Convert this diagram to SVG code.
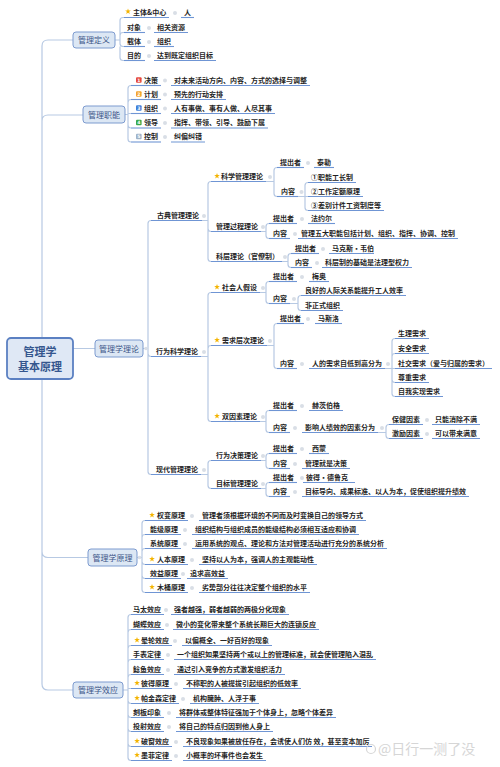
<svg xmlns="http://www.w3.org/2000/svg" xmlns:xlink="http://www.w3.org/1999/xlink" width="500" height="767" viewBox="0 0 500 767">
<style>
.c{fill:none;stroke:#b7c9e3;stroke-width:1.2}
.u{fill:none;stroke:#6f95d4;stroke-width:1.1}
.t{font-family:"Noto Sans CJK SC","Noto Sans",sans-serif;font-size:7px;fill:#1f1f1f;font-weight:bold}
.d{fill:#d9dee6}
.bx{fill:#dce7f4;stroke:#7d9bcf;stroke-width:1}
.bt{font-family:"Noto Sans CJK SC","Noto Sans",sans-serif;font-size:8px;fill:#3d5688;text-anchor:middle}
.rt{font-family:"Noto Sans CJK SC","Noto Sans",sans-serif;font-size:11px;font-weight:bold;fill:#34568e;text-anchor:middle}
.ic{font-family:"DejaVu Sans",sans-serif;font-size:4.6px;font-weight:bold;fill:#fff;text-anchor:middle}
.wm{font-family:"Noto Sans CJK SC","Noto Sans",sans-serif;font-size:14px;fill:#d6d6d6}
</style>
<defs>
<polygon id="st" fill="#f4b400" points="0,-3 0.705,-0.971 2.853,-0.927 1.141,0.371 1.763,2.427 0,1.2 -1.763,2.427 -1.141,0.371 -2.853,-0.927 -0.705,-0.971"/>
</defs>
<rect width="500" height="767" fill="#ffffff"/>

<g id="connectors">
<path class="c" d="M42,338 V46 Q42,40 48,40 H73 M42,338 V121 Q42,115 48,115 H83 M73,348.5 H95 M42,379 V551.5 Q42,557.5 48,557.5 H88 M42,379 V684 Q42,690 48,690 H73"/>
<path class="c" d="M115,40 H120 V20.5 Q120,17.5 123,17.5 H124 M120,40 V35.5 Q120,32.5 123,32.5 H124 M120,40 V43.5 Q120,46.5 123,46.5 H124 M120,46.5 V57.5 Q120,60.5 123,60.5 H124"/>
<path class="c" d="M125,114.5 H128 V88.5 Q128,85.5 131,85.5 M128,114.5 V102.5 Q128,99.5 131,99.5 M128,114.5 V113.5 H131 M128,114.5 V125 Q128,128 131,128 M128,114.5 V139 Q128,142 131,142"/>
<path class="c" d="M143,348.5 H148 V223.5 Q148,220.5 151,220.5 M148,348.5 V353.5 Q148,356.5 151,356.5 M148,348.5 V471.5 Q148,474.5 151,474.5"/>
<path class="c" d="M202,220.5 H208 V184.5 Q208,181.5 211,181.5 M208,220.5 V228.5 Q208,231.5 211,231.5 M208,220.5 V258.5 Q208,261.5 211,261.5"/>
<path class="c" d="M266,181.5 H274 V170.5 Q274,167.5 277,167.5 M274,181.5 V193.5 Q274,196.5 277,196.5"/>
<path class="c" d="M298,196.5 H305 V185.5 Q305,182.5 308,182.5 M305,196.5 H308 M305,196.5 V207.5 Q305,210.5 308,210.5"/>
<path class="c" d="M261,231.5 H266 V226.5 Q266,223.5 269,223.5 M266,231.5 V235.5 Q266,238.5 269,238.5"/>
<path class="c" d="M282,261.5 H288 V256.5 Q288,253.5 291,253.5 M288,261.5 V264.5 Q288,267.5 291,267.5"/>
<path class="c" d="M201,356.5 H208 V295.5 Q208,292.5 211,292.5 M208,356.5 V348.5 Q208,345.5 211,345.5 M208,356.5 V418.5 Q208,421.5 211,421.5"/>
<path class="c" d="M260,292.5 H266 V284.5 Q266,281.5 269,281.5 M266,292.5 V300.5 Q266,303.5 269,303.5"/>
<path class="c" d="M290,303.5 H298 V298.5 Q298,295.5 301,295.5 M298,303.5 V307.5 Q298,310.5 301,310.5"/>
<path class="c" d="M267,345.5 H274 V326.5 Q274,323.5 277,323.5 M274,345.5 V365.5 Q274,368.5 277,368.5"/>
<path class="c" d="M385,368.5 H392 V341.5 Q392,338.5 395,338.5 M392,368.5 V356.5 Q392,353.5 395,353.5 M392,368.5 H395 M392,368.5 V379.5 Q392,382.5 395,382.5 M392,368.5 V393.5 Q392,396.5 395,396.5"/>
<path class="c" d="M260,421.5 H266 V413.5 Q266,410.5 269,410.5 M266,421.5 V429.5 Q266,432.5 269,432.5"/>
<path class="c" d="M378,432.5 H386 V427.5 Q386,424.5 389,424.5 M386,432.5 V435.5 Q386,438.5 389,438.5"/>
<path class="c" d="M201,474.5 H208 V463.5 Q208,460.5 211,460.5 M208,474.5 V485.5 Q208,488.5 211,488.5"/>
<path class="c" d="M261,460.5 H266 V456.5 Q266,453.5 269,453.5 M266,460.5 V465.5 Q266,468.5 269,468.5"/>
<path class="c" d="M261,488.5 H266 V485.5 Q266,482.5 269,482.5 M266,488.5 V493.5 Q266,496.5 269,496.5"/>
<path class="c" d="M137,557.5 H142 V523.5 Q142,520.5 145,520.5 M142,557.5 V537.5 Q142,534.5 145,534.5 M142,557.5 V551.5 Q142,548.5 145,548.5 M142,557.5 V561.5 Q142,564.5 145,564.5 M142,557.5 V575.5 Q142,578.5 145,578.5 M142,557.5 V589.5 Q142,592.5 145,592.5"/>
<path class="c" d="M123,690 H128 V617.5 Q128,614.5 131,614.5 M128,690 V632.5 Q128,629.5 131,629.5 M128,690 V648.5 Q128,645.5 131,645.5 M128,690 V662.5 Q128,659.5 131,659.5 M128,690 V677.5 Q128,674.5 131,674.5 M128,690 V688.5 H131 M128,690 V700.5 Q128,703.5 131,703.5 M128,690 V714.5 Q128,717.5 131,717.5 M128,690 V728.5 Q128,731.5 131,731.5 M128,690 V743.5 Q128,746.5 131,746.5 M128,690 V757.5 Q128,760.5 131,760.5"/>
<g class="d">
<circle cx="175" cy="13" r="2"/><circle cx="149" cy="28" r="2"/><circle cx="149" cy="42" r="2"/><circle cx="149" cy="56" r="2"/>
<circle cx="165" cy="80.5" r="2"/><circle cx="165" cy="94.5" r="2"/><circle cx="165" cy="108.5" r="2"/><circle cx="165" cy="123" r="2"/><circle cx="165" cy="137" r="2"/>
<circle cx="146" cy="348.5" r="1.8"/>
<circle cx="204" cy="216" r="2"/><circle cx="204" cy="352" r="2"/><circle cx="204" cy="470" r="2"/>
<circle cx="270" cy="177" r="2"/><circle cx="263" cy="227" r="2"/><circle cx="285" cy="257" r="2"/>
<circle cx="308" cy="163" r="2"/><circle cx="301.5" cy="192" r="2"/>
<circle cx="302" cy="219" r="2"/><circle cx="295" cy="234" r="2"/>
<circle cx="323" cy="249" r="2"/><circle cx="317" cy="263" r="2"/>
<circle cx="263" cy="288" r="2"/><circle cx="302" cy="277" r="2"/><circle cx="294" cy="299" r="2"/>
<circle cx="270" cy="341" r="2"/><circle cx="308" cy="319" r="2"/><circle cx="302" cy="364" r="2"/><circle cx="388" cy="364" r="2"/>
<circle cx="263" cy="417" r="2"/><circle cx="302" cy="406" r="2"/><circle cx="295" cy="428" r="2"/><circle cx="382" cy="428" r="2"/><circle cx="427" cy="420" r="2"/><circle cx="427" cy="434" r="2"/>
<circle cx="263" cy="456" r="2"/><circle cx="263" cy="484" r="2"/><circle cx="302" cy="449" r="2"/><circle cx="295" cy="464" r="2"/><circle cx="302" cy="478" r="2"/><circle cx="295" cy="492" r="2"/>
<circle cx="139.5" cy="557.5" r="1.8"/>
<circle cx="192" cy="516" r="2"/><circle cx="185" cy="530" r="2"/><circle cx="185" cy="544" r="2"/><circle cx="192" cy="560" r="2"/><circle cx="183" cy="574" r="2"/><circle cx="192" cy="588" r="2"/>
<circle cx="166" cy="610" r="2"/><circle cx="167" cy="625" r="2"/><circle cx="175" cy="641" r="2"/><circle cx="168" cy="655" r="2"/><circle cx="168" cy="670" r="2"/><circle cx="176" cy="684" r="2"/><circle cx="183" cy="699" r="2"/><circle cx="169" cy="713" r="2"/><circle cx="169" cy="727" r="2"/><circle cx="176" cy="742" r="2"/><circle cx="176" cy="756" r="2"/>
</g>
</g>

<g id="root">
<rect x="7" y="338" width="66" height="41" rx="4" fill="#dfe8f5" stroke="#5b80c2" stroke-width="1.8"/>
<text class="rt" x="40" y="356">管理学</text>
<text class="rt" x="40" y="371">基本原理</text>
</g>

<g id="dingyi"><rect class="bx" x="73" y="32" width="42" height="16" rx="3"/><text class="bt" x="94" y="43">管理定义</text></g>
<g id="dy1"><use href="#st" x="128" y="11.5"/><text class="t" x="133" y="14.5">主体&amp;中心</text><path class="u" d="M124,17.5 H169"/></g>
<g id="dy1v"><text class="t" x="184" y="14.5">人</text><path class="u" d="M181,17.5 H194"/></g>
<g id="dy2"><text class="t" x="127" y="29.5">对象</text><path class="u" d="M124,32.5 H145"/></g>
<g id="dy2v"><text class="t" x="157" y="29.5">相关资源</text><path class="u" d="M154,32.5 H188"/></g>
<g id="dy3"><text class="t" x="127" y="43.5">载体</text><path class="u" d="M124,46.5 H145"/></g>
<g id="dy3v"><text class="t" x="157" y="43.5">组织</text><path class="u" d="M154,46.5 H174"/></g>
<g id="dy4"><text class="t" x="127" y="57.5">目的</text><path class="u" d="M124,60.5 H145"/></g>
<g id="dy4v"><text class="t" x="157" y="57.5">达到既定组织目标</text><path class="u" d="M154,60.5 H216"/></g>

<g id="zhineng"><rect class="bx" x="83" y="106" width="42" height="17" rx="3"/><text class="bt" x="104" y="117.5">管理职能</text></g>
<g id="zn1"><rect x="136" y="77.2" width="5.6" height="5.6" rx="1" fill="#e5483d"/><text class="ic" x="138.8" y="81.7">1</text><text class="t" x="144" y="82.5">决策</text><path class="u" d="M131,85.5 H161"/></g>
<g id="zn1v"><text class="t" x="174" y="82.5">对未来活动方向、内容、方式的选择与调整</text><path class="u" d="M171,85.5 H310"/></g>
<g id="zn2"><rect x="136" y="91.2" width="5.6" height="5.6" rx="1" fill="#f3a42b"/><text class="ic" x="138.8" y="95.7">2</text><text class="t" x="144" y="96.5">计划</text><path class="u" d="M131,99.5 H161"/></g>
<g id="zn2v"><text class="t" x="174" y="96.5">预先的行动安排</text><path class="u" d="M171,99.5 H226"/></g>
<g id="zn3"><rect x="136" y="105.2" width="5.6" height="5.6" rx="1" fill="#3f7fd9"/><text class="ic" x="138.8" y="109.7">3</text><text class="t" x="144" y="110.5">组织</text><path class="u" d="M131,113.5 H161"/></g>
<g id="zn3v"><text class="t" x="174" y="110.5">人有事做、事有人做、人尽其事</text><path class="u" d="M171,113.5 H275"/></g>
<g id="zn4"><rect x="136" y="119.7" width="5.6" height="5.6" rx="1" fill="#39a84a"/><text class="ic" x="138.8" y="124.2">4</text><text class="t" x="144" y="125">领导</text><path class="u" d="M131,128 H161"/></g>
<g id="zn4v"><text class="t" x="174" y="125">指挥、带领、引导、鼓励下属</text><path class="u" d="M171,128 H268"/></g>
<g id="zn5"><rect x="136" y="133.7" width="5.6" height="5.6" rx="1" fill="#9fb3c8"/><text class="ic" x="138.8" y="138.2">5</text><text class="t" x="144" y="139">控制</text><path class="u" d="M131,142 H161"/></g>
<g id="zn5v"><text class="t" x="174" y="139">纠偏纠错</text><path class="u" d="M171,142 H205"/></g>

<g id="lilun"><rect class="bx" x="95" y="340" width="48" height="17" rx="3"/><text class="bt" x="119" y="351.5">管理学理论</text></g>
<g id="gudian"><text class="t" x="157" y="217.5">古典管理理论</text><path class="u" d="M151,220.5 H202"/></g>
<g id="kexue"><use href="#st" x="217" y="176"/><text class="t" x="221" y="178.5">科学管理理论</text><path class="u" d="M211,181.5 H266"/></g>
<g id="kx-tcz"><text class="t" x="280" y="164.5">提出者</text><path class="u" d="M277,167.5 H304"/></g>
<g id="kx-tcz-v"><text class="t" x="317" y="164.5">泰勒</text><path class="u" d="M314,167.5 H334"/></g>
<g id="kx-nr"><text class="t" x="281" y="193.5">内容</text><path class="u" d="M277,196.5 H298"/></g>
<g id="kx-1"><text class="t" x="311" y="179.5">①职能工长制</text><path class="u" d="M308,182.5 H356"/></g>
<g id="kx-2"><text class="t" x="311" y="193.5">②工作定额原理</text><path class="u" d="M308,196.5 H363"/></g>
<g id="kx-3"><text class="t" x="311" y="207.5">③差别计件工资制度等</text><path class="u" d="M308,210.5 H384"/></g>
<g id="guocheng"><text class="t" x="216" y="228.5">管理过程理论</text><path class="u" d="M211,231.5 H261"/></g>
<g id="gc-tcz"><text class="t" x="273" y="220.5">提出者</text><path class="u" d="M269,223.5 H297"/></g>
<g id="gc-tcz-v"><text class="t" x="311" y="220.5">法约尔</text><path class="u" d="M308,223.5 H335"/></g>
<g id="gc-nr"><text class="t" x="273" y="235.5">内容</text><path class="u" d="M269,238.5 H290"/></g>
<g id="gc-nr-v"><text class="t" x="301" y="235.5">管理五大职能包括计划、组织、指挥、协调、控制</text><path class="u" d="M298,238.5 H458"/></g>
<g id="keceng"><text class="t" x="216" y="258.5">科层理论（官僚制）</text><path class="u" d="M211,261.5 H282"/></g>
<g id="kc-tcz"><text class="t" x="295" y="250.5">提出者</text><path class="u" d="M291,253.5 H319"/></g>
<g id="kc-tcz-v"><text class="t" x="332" y="250.5">马克斯·韦伯</text><path class="u" d="M329,253.5 H374"/></g>
<g id="kc-nr"><text class="t" x="295" y="264.5">内容</text><path class="u" d="M291,267.5 H312"/></g>
<g id="kc-nr-v"><text class="t" x="325" y="264.5">科层制的基础是法理型权力</text><path class="u" d="M322,267.5 H412"/></g>

<g id="xingwei"><text class="t" x="156" y="353.5">行为科学理论</text><path class="u" d="M151,356.5 H201"/></g>
<g id="shehuiren"><use href="#st" x="217" y="287"/><text class="t" x="222" y="289.5">社会人假设</text><path class="u" d="M211,292.5 H260"/></g>
<g id="shr-tcz"><text class="t" x="273" y="278.5">提出者</text><path class="u" d="M269,281.5 H297"/></g>
<g id="shr-tcz-v"><text class="t" x="312" y="278.5">梅奥</text><path class="u" d="M309,281.5 H329"/></g>
<g id="shr-nr"><text class="t" x="273" y="300.5">内容</text><path class="u" d="M269,303.5 H290"/></g>
<g id="shr-1"><text class="t" x="305" y="292.5">良好的人际关系能提升工人效率</text><path class="u" d="M301,295.5 H406"/></g>
<g id="shr-2"><text class="t" x="305" y="307.5">非正式组织</text><path class="u" d="M301,310.5 H343"/></g>
<g id="xuqiu"><use href="#st" x="217" y="340"/><text class="t" x="222" y="342.5">需求层次理论</text><path class="u" d="M211,345.5 H267"/></g>
<g id="xq-tcz"><text class="t" x="280" y="320.5">提出者</text><path class="u" d="M277,323.5 H304"/></g>
<g id="xq-tcz-v"><text class="t" x="318" y="320.5">马斯洛</text><path class="u" d="M315,323.5 H342"/></g>
<g id="xq-nr"><text class="t" x="280" y="365.5">内容</text><path class="u" d="M277,368.5 H297"/></g>
<g id="xq-nr-v"><text class="t" x="312" y="365.5">人的需求自低到高分为</text><path class="u" d="M309,368.5 H385"/></g>
<g id="xq-1"><text class="t" x="398" y="335.5">生理需求</text><path class="u" d="M395,338.5 H429"/></g>
<g id="xq-2"><text class="t" x="398" y="350.5">安全需求</text><path class="u" d="M395,353.5 H429"/></g>
<g id="xq-3"><text class="t" x="398" y="365.5">社交需求（爱与归属的需求）</text><path class="u" d="M395,368.5 H492"/></g>
<g id="xq-4"><text class="t" x="398" y="379.5">尊重需求</text><path class="u" d="M395,382.5 H429"/></g>
<g id="xq-5"><text class="t" x="398" y="393.5">自我实现需求</text><path class="u" d="M395,396.5 H443"/></g>
<g id="shuangyinsu"><use href="#st" x="217" y="416"/><text class="t" x="222" y="418.5">双因素理论</text><path class="u" d="M211,421.5 H260"/></g>
<g id="sy-tcz"><text class="t" x="273" y="407.5">提出者</text><path class="u" d="M269,410.5 H297"/></g>
<g id="sy-tcz-v"><text class="t" x="312" y="407.5">赫茨伯格</text><path class="u" d="M309,410.5 H343"/></g>
<g id="sy-nr"><text class="t" x="273" y="429.5">内容</text><path class="u" d="M269,432.5 H290"/></g>
<g id="sy-nr-v"><text class="t" x="305" y="429.5">影响人绩效的因素分为</text><path class="u" d="M302,432.5 H378"/></g>
<g id="sy-1"><text class="t" x="392" y="421.5">保健因素</text><path class="u" d="M389,424.5 H423"/></g>
<g id="sy-1v"><text class="t" x="435" y="421.5">只能消除不满</text><path class="u" d="M432,424.5 H480"/></g>
<g id="sy-2"><text class="t" x="392" y="435.5">激励因素</text><path class="u" d="M389,438.5 H423"/></g>
<g id="sy-2v"><text class="t" x="435" y="435.5">可以带来满意</text><path class="u" d="M432,438.5 H480"/></g>

<g id="xiandai"><text class="t" x="156" y="471.5">现代管理理论</text><path class="u" d="M151,474.5 H201"/></g>
<g id="juece"><text class="t" x="216" y="457.5">行为决策理论</text><path class="u" d="M211,460.5 H261"/></g>
<g id="jc-tcz"><text class="t" x="273" y="450.5">提出者</text><path class="u" d="M269,453.5 H297"/></g>
<g id="jc-tcz-v"><text class="t" x="312" y="450.5">西蒙</text><path class="u" d="M309,453.5 H329"/></g>
<g id="jc-nr"><text class="t" x="273" y="465.5">内容</text><path class="u" d="M269,468.5 H290"/></g>
<g id="jc-nr-v"><text class="t" x="305" y="465.5">管理就是决策</text><path class="u" d="M302,468.5 H350"/></g>
<g id="mubiao"><text class="t" x="216" y="485.5">目标管理理论</text><path class="u" d="M211,488.5 H261"/></g>
<g id="mb-tcz"><text class="t" x="273" y="479.5">提出者</text><path class="u" d="M269,482.5 H297"/></g>
<g id="mb-tcz-v"><text class="t" x="306" y="479.5">彼得·德鲁克</text><path class="u" d="M303,482.5 H355"/></g>
<g id="mb-nr"><text class="t" x="273" y="493.5">内容</text><path class="u" d="M269,496.5 H290"/></g>
<g id="mb-nr-v"><text class="t" x="305" y="493.5">目标导向、成果标准、以人为本，促使组织提升绩效</text><path class="u" d="M302,496.5 H469"/></g>

<g id="yuanli"><rect class="bx" x="88" y="549" width="49" height="17" rx="3"/><text class="bt" x="112.5" y="560.5">管理学原理</text></g>
<g id="yl1"><use href="#st" x="152" y="515"/><text class="t" x="157" y="517.5">权变原理</text><path class="u" d="M145,520.5 H188"/></g>
<g id="yl1v"><text class="t" x="202" y="517.5">管理者须根据环境的不同而及时变换自己的领导方式</text><path class="u" d="M199,520.5 H366"/></g>
<g id="yl2"><text class="t" x="150" y="531.5">能级原理</text><path class="u" d="M145,534.5 H181"/></g>
<g id="yl2v"><text class="t" x="195" y="531.5">组织结构与组织成员的能级结构必须相互适应和协调</text><path class="u" d="M192,534.5 H359"/></g>
<g id="yl3"><text class="t" x="150" y="545.5">系统原理</text><path class="u" d="M145,548.5 H181"/></g>
<g id="yl3v"><text class="t" x="195" y="545.5">运用系统的观点、理论和方法对管理活动进行充分的系统分析</text><path class="u" d="M192,548.5 H387"/></g>
<g id="yl4"><use href="#st" x="152" y="559"/><text class="t" x="157" y="561.5">人本原理</text><path class="u" d="M145,564.5 H188"/></g>
<g id="yl4v"><text class="t" x="202" y="561.5">坚持以人为本，强调人的主观能动性</text><path class="u" d="M199,564.5 H317"/></g>
<g id="yl5"><text class="t" x="150" y="575.5">效益原理</text><path class="u" d="M145,578.5 H181"/></g>
<g id="yl5v"><text class="t" x="190" y="575.5">追求高效益</text><path class="u" d="M187,578.5 H228"/></g>
<g id="yl6"><use href="#st" x="152" y="587"/><text class="t" x="157" y="589.5">木桶原理</text><path class="u" d="M145,592.5 H188"/></g>
<g id="yl6v"><text class="t" x="202" y="589.5">劣势部分往往决定整个组织的水平</text><path class="u" d="M199,592.5 H310"/></g>

<g id="xiaoying"><rect class="bx" x="73" y="682" width="50" height="16" rx="3"/><text class="bt" x="98" y="693">管理学效应</text></g>
<g id="xy1"><text class="t" x="133" y="611.5">马太效应</text><path class="u" d="M131,614.5 H164"/></g>
<g id="xy1v"><text class="t" x="174" y="611.5">强者越强，弱者越弱的两极分化现象</text><path class="u" d="M171,614.5 H289"/></g>
<g id="xy2"><text class="t" x="133" y="626.5">蝴蝶效应</text><path class="u" d="M131,629.5 H164"/></g>
<g id="xy2v"><text class="t" x="176" y="626.5">微小的变化带来整个系统长期巨大的连锁反应</text><path class="u" d="M173,629.5 H319"/></g>
<g id="xy3"><use href="#st" x="137" y="640"/><text class="t" x="141" y="642.5">晕轮效应</text><path class="u" d="M131,645.5 H172"/></g>
<g id="xy3v"><text class="t" x="185" y="642.5">以偏概全、一好百好的现象</text><path class="u" d="M182,645.5 H272"/></g>
<g id="xy4"><text class="t" x="133" y="656.5">手表定律</text><path class="u" d="M131,659.5 H164"/></g>
<g id="xy4v"><text class="t" x="177" y="656.5">一个组织如果坚持两个或以上的管理标准，就会使管理陷入混乱</text><path class="u" d="M174,659.5 H376"/></g>
<g id="xy5"><text class="t" x="133" y="671.5">鲶鱼效应</text><path class="u" d="M131,674.5 H164"/></g>
<g id="xy5v"><text class="t" x="177" y="671.5">通过引入竞争的方式激发组织活力</text><path class="u" d="M174,674.5 H285"/></g>
<g id="xy6"><use href="#st" x="137" y="683"/><text class="t" x="141" y="685.5">彼得原理</text><path class="u" d="M131,688.5 H172"/></g>
<g id="xy6v"><text class="t" x="186" y="685.5">不称职的人被提拔引起组织的低效率</text><path class="u" d="M183,688.5 H301"/></g>
<g id="xy7"><use href="#st" x="137" y="698"/><text class="t" x="141" y="700.5">帕金森定律</text><path class="u" d="M131,703.5 H179"/></g>
<g id="xy7v"><text class="t" x="193" y="700.5">机构臃肿、人浮于事</text><path class="u" d="M190,703.5 H259"/></g>
<g id="xy8"><text class="t" x="133" y="714.5">刻板印象</text><path class="u" d="M131,717.5 H164"/></g>
<g id="xy8v"><text class="t" x="179" y="714.5">将群体或整体特征强加于个体身上，忽略个体差异</text><path class="u" d="M176,717.5 H336"/></g>
<g id="xy9"><text class="t" x="133" y="728.5">投射效应</text><path class="u" d="M131,731.5 H164"/></g>
<g id="xy9v"><text class="t" x="179" y="728.5">将自己的特点归因到他人身上</text><path class="u" d="M176,731.5 H273"/></g>
<g id="xy10"><use href="#st" x="137" y="741"/><text class="t" x="141" y="743.5">破窗效应</text><path class="u" d="M131,746.5 H172"/></g>
<g id="xy10v"><text class="t" x="186" y="743.5">不良现象如果被放任存在，会诱使人们仿 效，甚至变本加厉</text><path class="u" d="M183,746.5 H372"/></g>
<g id="xy11"><use href="#st" x="137" y="755"/><text class="t" x="141" y="757.5">墨菲定律</text><path class="u" d="M131,760.5 H172"/></g>
<g id="xy11v"><text class="t" x="186" y="757.5">小概率的坏事件也会发生</text><path class="u" d="M183,760.5 H266"/></g>

<g id="watermark"><circle cx="371" cy="749" r="4.5" fill="none" stroke="#d6d6d6" stroke-width="1.2"/><text class="wm" x="378" y="754">@日行一测了没</text></g>
</svg>
